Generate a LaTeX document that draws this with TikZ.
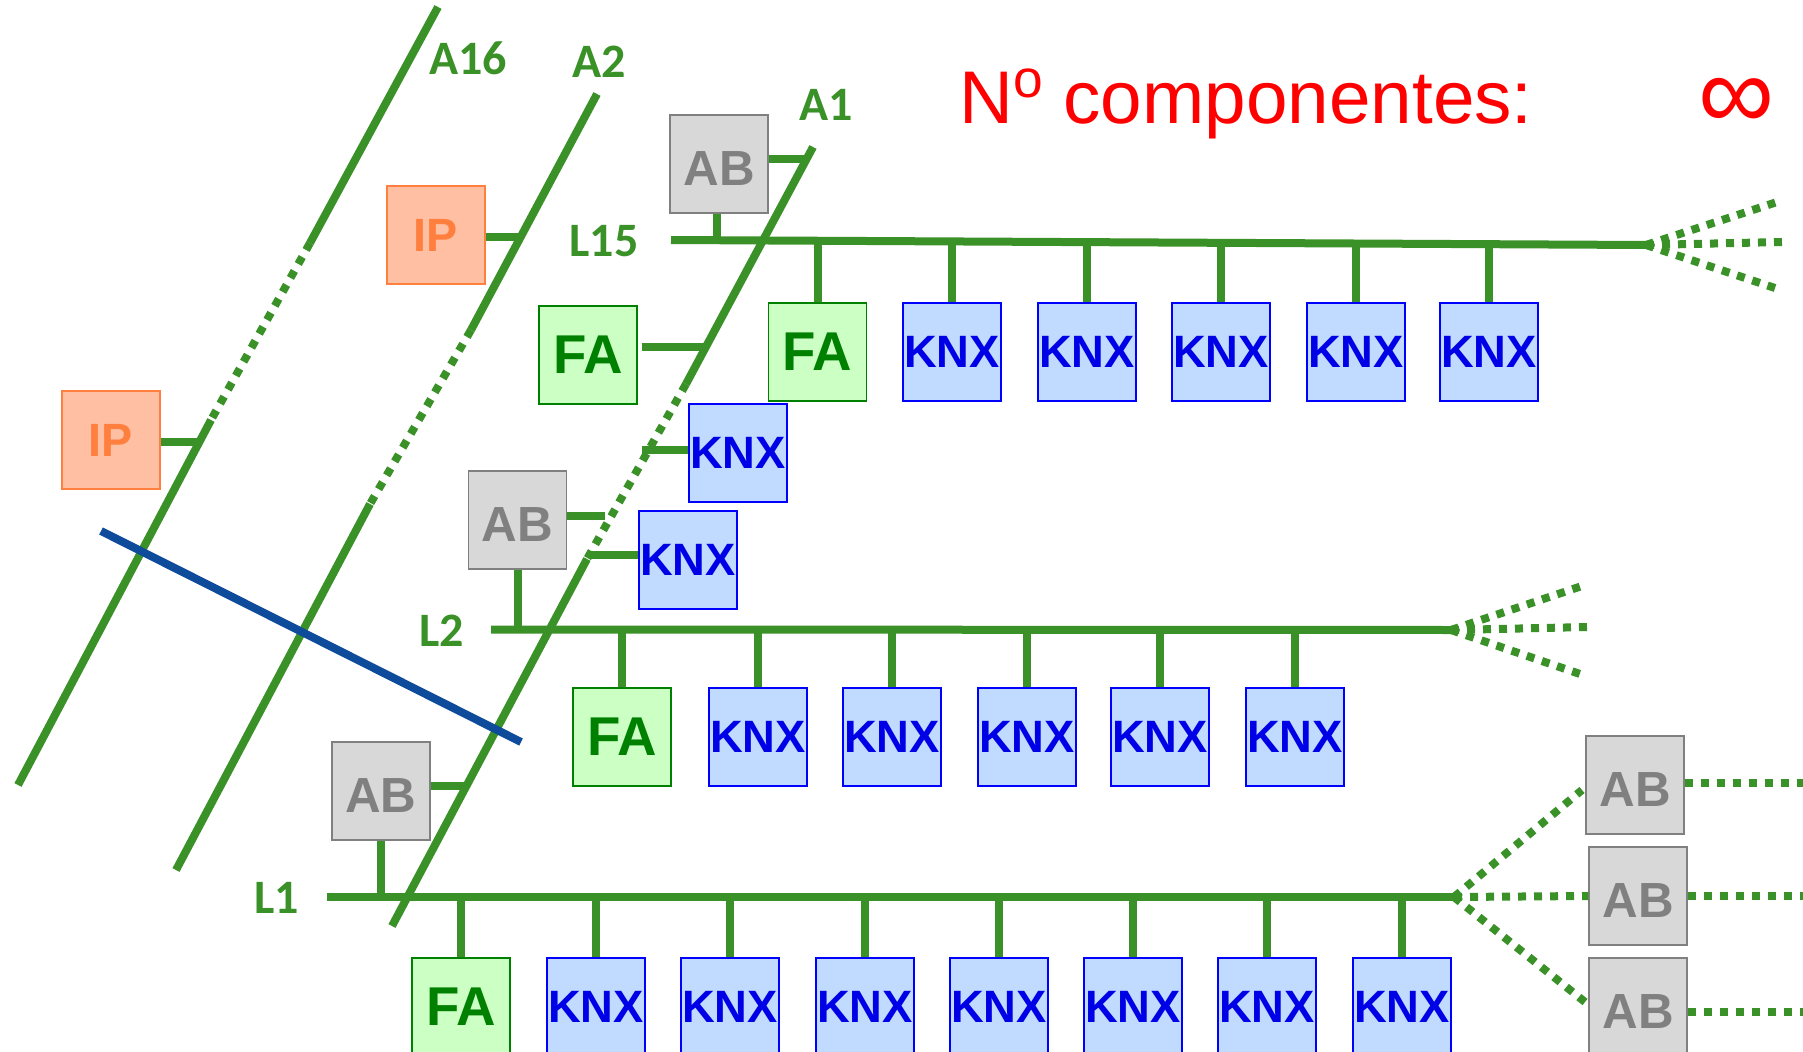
\documentclass[tikz,border=0pt]{standalone}
\usepackage{fontspec}
\setmainfont{Liberation Sans}
\newfontfamily\labelfont{Carlito}

\tikzset{
  busline/.style={draw={rgb, 255:red, 58; green, 145; blue, 40}, line width=6pt},
  dotline/.style={busline, dash pattern=on 6pt off 6pt},
  compbox/.style={minimum size=73.6pt, inner sep=0pt, line width=0.9pt},
  knxbox/.style={compbox, draw={rgb, 255:red, 0; green, 0; blue, 255}, fill={rgb, 255:red, 192; green, 219; blue, 255}, text={rgb, 255:red, 0; green, 0; blue, 230}, font=\fontsize{34}{34}\selectfont\bfseries},
  fabox/.style={compbox, draw={rgb, 255:red, 0; green, 128; blue, 0}, fill={rgb, 255:red, 204; green, 255; blue, 196}, text={rgb, 255:red, 0; green, 128; blue, 0}, font=\fontsize{41}{41}\selectfont\bfseries},
  abbox/.style={compbox, draw={rgb, 255:red, 128; green, 128; blue, 128}, fill={rgb, 255:red, 216; green, 216; blue, 216}, text={rgb, 255:red, 128; green, 128; blue, 128}, text height=32pt, text depth=0pt, font=\fontsize{37}{37}\selectfont\bfseries},
  ipbox/.style={compbox, draw={rgb, 255:red, 255; green, 127; blue, 63}, fill={rgb, 255:red, 255; green, 191; blue, 163}, text={rgb, 255:red, 255; green, 127; blue, 63}, font=\fontsize{35}{35}\selectfont\bfseries},
  linelabel/.style={inner sep=0pt, text={rgb, 255:red, 58; green, 145; blue, 40}, font=\fontsize{36}{36}\selectfont\labelfont\bfseries},
  titletext/.style={inner sep=0pt, text={rgb, 255:red, 255; green, 0; blue, 0}, font=\fontsize{56}{56}\selectfont},
}

\begin{document}
\begin{tikzpicture}[x=0.75pt,y=0.75pt,yscale=-1,xscale=1]
\useasboundingbox (0,0) rectangle (1803,1052);
\clip (0,0) rectangle (1803,1052);

%Straight Lines: area lines
\coordinate (a16t) at (438,7);
\coordinate (a16u) at (310,243);
\coordinate (a16v) at (211,420);
\coordinate (a16b) at (18,785);
\draw[busline] (a16t) -- (a16u);
\draw[dotline] (a16u) -- (a16v);
\draw[busline] (a16v) -- (a16b);

\coordinate (a2t) at (597,94);
\coordinate (a2u) at (471,330);
\coordinate (a2v) at (370,504);
\coordinate (a2b) at (176,870);
\draw[busline] (a2t) -- (a2u);
\draw[dotline] (a2u) -- (a2v);
\draw[busline] (a2v) -- (a2b);

\coordinate (a1t) at (813,147);
\coordinate (a1u) at (686,384);
\coordinate (a1v) at (587,559);
\coordinate (a1b) at (392,926);
\draw[busline] (a1t) -- (a1u);
\draw[dotline] (a1u) -- (a1v);
\draw[busline] (a1v) -- (a1b);

%Straight Lines: backbone
\coordinate (blueL) at (101,531);
\coordinate (blueR) at (521,742);
\draw[line width=6pt, draw={rgb, 255:red, 15; green, 75; blue, 155}] (blueL) -- (blueR);

%Straight Lines: buses
\coordinate (l15a) at (671,240);
\coordinate (l15m) at (1150,242);
\coordinate (l15e) at (1646,245);
\draw[busline] (l15a) -- (l15e);
\coordinate (l2a) at (491,629.5);
\coordinate (l2e) at (1451,630);
\draw[busline] (l2a) -- (l2e);
\coordinate (l1a) at (327,897);
\coordinate (l1e) at (1454,897);
\draw[busline] (l1a) -- (l1e);

%Shape: Rectangle, row of line 15
\node[fabox] (fa15) at (817.5,352) {FA};
\draw[busline] (fa15.north) -- (fa15.north |- l15m);
\foreach \x [count=\i] in {952,1087,1221,1356,1489} {
  \node[knxbox] (knxa\i) at (\x,352) {KNX};
  \draw[busline] (knxa\i.north) -- (knxa\i.north |- l15m);
}

%Shape: Rectangle, row of line 2
\node[fabox] (fa2) at (622,737) {FA};
\draw[busline] (fa2.north) -- (fa2.north |- l2a);
\foreach \x [count=\i] in {758,892,1027,1160,1295} {
  \node[knxbox] (knxb\i) at (\x,737) {KNX};
  \draw[busline] (knxb\i.north) -- (knxb\i.north |- l2a);
}

%Shape: Rectangle, row of line 1
\node[fabox] (fa1) at (461,1007) {FA};
\draw[busline] (fa1.north) -- (fa1.north |- l1a);
\foreach \x [count=\i] in {596,730,865,999,1133,1267,1402} {
  \node[knxbox] (knxc\i) at (\x,1007) {KNX};
  \draw[busline] (knxc\i.north) -- (knxc\i.north |- l1a);
}

%Shape: Rectangle, couplers
\node[abbox] (ab15) at (719,164) {AB};
\node[abbox] (ab2) at (517.5,520) {AB};
\node[abbox] (ab1) at (381,791) {AB};
\node[ipbox] (ip2) at (436,235) {IP};
\node[ipbox] (ip16) at (111,440) {IP};
\node[fabox] (fa0) at (588,355) {FA};
\node[knxbox] (knxd) at (738,453) {KNX};
\node[knxbox] (knxe) at (688,560) {KNX};
\node[abbox] (abr1) at (1635,785) {AB};
\node[abbox] (abr2) at (1638,896) {AB};
\node[abbox] (abr3) at (1638,1007) {AB};

%Straight Lines: taps on the area lines
\coordinate (tab15) at (809,159);
\coordinate (sab15) at (717,240);
\coordinate (tip2) at (521,237);
\coordinate (tip16) at (199,442);
\coordinate (sfa0) at (642,347);
\coordinate (tfa0) at (704,347);
\coordinate (tknxd) at (642,450);
\coordinate (tab2) at (605,516);
\coordinate (tknxe) at (591,555);
\coordinate (tab1) at (466,786);
\draw[busline] (ab15.east |- tab15) -- (tab15);
\draw[busline] (sab15 |- ab15.south) -- (sab15);
\draw[busline] (ip2.east |- tip2) -- (tip2);
\draw[busline] (ip16.east |- tip16) -- (tip16);
\draw[busline] (sfa0) -- (tfa0);
\draw[busline] (knxd.west |- tknxd) -- (tknxd);
\draw[busline] (ab2.east |- tab2) -- (tab2);
\draw[busline] (knxe.west |- tknxe) -- (tknxe);
\draw[busline] (ab2.south) -- (ab2.south |- l2a);
\draw[busline] (ab1.east |- tab1) -- (tab1);
\draw[busline] (ab1.south) -- (ab1.south |- l1a);

%Straight Lines: dotted ends
\coordinate (f15a) at (1777,202);
\coordinate (f15b) at (1782,242);
\coordinate (f15c) at (1775,288);
\foreach \n in {f15a,f15b,f15c} \draw[dotline] (l15e) -- (\n);
\coordinate (f2a) at (1582,586);
\coordinate (f2b) at (1588,627);
\coordinate (f2c) at (1580,674);
\foreach \n in {f2a,f2b,f2c} \draw[dotline] (l2e) -- (\n);
\coordinate (f1a) at (1582,790);
\coordinate (f1c) at (1585,1002);
\draw[dotline] (l1e) -- (f1a);
\draw[dotline] (l1e) -- (abr2.west);
\draw[dotline] (l1e) -- (f1c);
\coordinate (o1) at (1803,783);
\coordinate (o2) at (1803,896);
\coordinate (o3) at (1803,1012);
\draw[dotline] (abr1.east |- o1) -- (o1);
\draw[dotline] (abr2.east |- o2) -- (o2);
\draw[dotline] (abr3.east |- o3) -- (o3);

% Text Node
\node[linelabel] (la16) at (468,58) {A16};
\node[linelabel] (la2) at (599,62) {A2};
\node[linelabel] (la1) at (826,105) {A1};
\node[linelabel] (ll15) at (604,241) {L15};
\node[linelabel] (ll2) at (442,631) {L2};
\node[linelabel] (ll1) at (277,898) {L1};
% Text Node
\node[titletext] (title) at (1246,104) {N\raisebox{20pt}{\fontsize{40}{40}\selectfont o} componentes:};
\node[titletext, font=\fontsize{80}{80}\selectfont] (count) at (1737,104) {∞};

\end{tikzpicture}
\end{document}
